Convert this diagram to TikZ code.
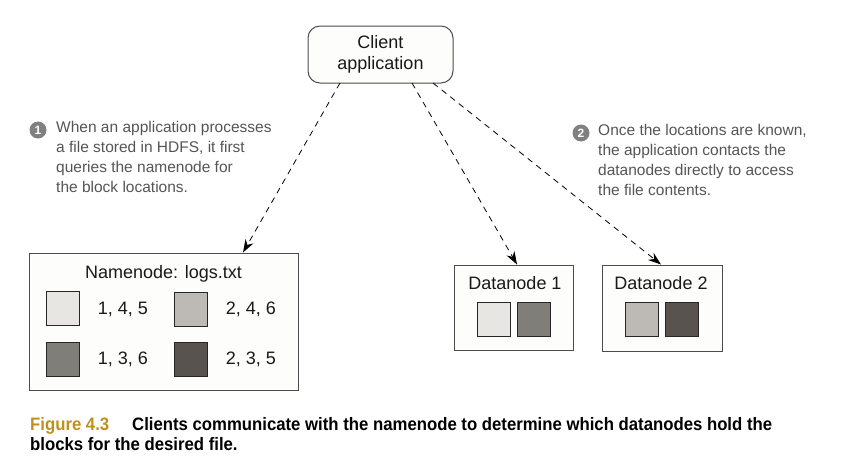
\documentclass[tikz,border=0pt]{standalone}
\usepackage{fontspec}
\setmainfont{Liberation Sans}
\newfontfamily\capfont[FakeStretch=0.93]{Liberation Sans}
\usetikzlibrary{arrows.meta}
\definecolor{blkA}{HTML}{E8E6E3}
\definecolor{blkB}{HTML}{BDB9B4}
\definecolor{blkC}{HTML}{807E78}
\definecolor{blkD}{HTML}{58534F}
\definecolor{boxfill}{HTML}{FDFDFB}
\definecolor{annot}{HTML}{555555}
\definecolor{capgold}{HTML}{C0901E}
\tikzset{
  nodebox/.style={draw=black!70, line width=1pt, fill=boxfill},
  blk/.style={draw=black!85, line width=0.9pt, minimum width=33pt, minimum height=34pt, inner sep=0pt},
  lbl/.style={font=\fontsize{18}{22}\selectfont, text=black!90, inner sep=0pt},
  note/.style={font=\fontsize{15.5}{20}\selectfont, text=annot, align=left, anchor=north west, inner sep=0pt},
  marker/.style={circle, fill=black!50, text=white, inner sep=0pt, minimum size=17pt, font=\bfseries\fontsize{12}{12}\selectfont},
  link/.style={dashed, dash pattern=on 6pt off 5pt, line width=0.8pt, -{Stealth[length=13pt,width=9pt]}},
  capt/.style={anchor=base west, inner sep=0pt, font=\capfont\bfseries\fontsize{18}{22}\selectfont},
}
\begin{document}
\begin{tikzpicture}[x=1pt,y=-1pt]
\useasboundingbox (0,0) rectangle (855,459);
% client
\node[nodebox, rounded corners=12pt, minimum width=145pt, minimum height=57pt, align=center, lbl, inner sep=0pt] (client) at (380.5,54.5) {Client\\[-1pt]application};
% namenode
\node[nodebox, minimum width=269pt, minimum height=137pt] (nn) at (163.5,321.5) {};
\node[lbl, anchor=base] (nnt) at (163.5,278) {Namenode: logs.txt};
\node[blk, fill=blkA] (b1) at (62.5,308.5) {};
\node[blk, fill=blkB] (b2) at (190.5,309) {};
\node[blk, fill=blkC] (b3) at (62.5,359.5) {};
\node[blk, fill=blkD] (b4) at (190.5,359.5) {};
\node[lbl, anchor=base] (t1) at (123,314.5) {1, 4, 5};
\node[lbl, anchor=base] (t2) at (251,314.5) {2, 4, 6};
\node[lbl, anchor=base] (t3) at (123,364.5) {1, 3, 6};
\node[lbl, anchor=base] (t4) at (251,364.5) {2, 3, 5};
% datanode 1
\node[nodebox, minimum width=119pt, minimum height=85pt] (d1) at (513.5,307.5) {};
\node[lbl, anchor=base] (d1t) at (515,289.5) {Datanode 1};
\node[blk, fill=blkA] (d1a) at (494,319) {};
\node[blk, fill=blkC] (d1b) at (533.5,319) {};
% datanode 2
\node[nodebox, minimum width=120pt, minimum height=86pt] (d2) at (662,308) {};
\node[lbl, anchor=base] (d2t) at (661,289.5) {Datanode 2};
\node[blk, fill=blkB] (d2a) at (641.5,319) {};
\node[blk, fill=blkD] (d2b) at (681.5,319) {};
% arrows
\coordinate (c1) at (340,83);
\coordinate (c2) at (412,83);
\coordinate (c3) at (433,83);
\draw[link] (c1) -- (nn.north -| 243,0);
\draw[link] (c2) -- (d1.north -| 517,0);
\draw[link] (c3) -- (d2.north -| 661,0);
% annotations
\node[marker] (m1) at (38,130) {1};
\node[note] (n1) at (56,121) {When an application processes\\a file stored in HDFS, it first\\queries the namenode for\\the block locations.};
\node[marker] (m2) at (581,133) {2};
\node[note] (n2) at (598,124) {Once the locations are known,\\the application contacts the\\datanodes directly to access\\the file contents.};
% caption
\node[capt, text=capgold] (cap1) at (30,430) {Figure 4.3};
\node[capt, text=black] (cap2) at (132,430) {Clients communicate with the namenode to determine which datanodes hold the};
\node[capt, text=black] (cap3) at (30,450) {blocks for the desired file.};
\end{tikzpicture}
\end{document}
